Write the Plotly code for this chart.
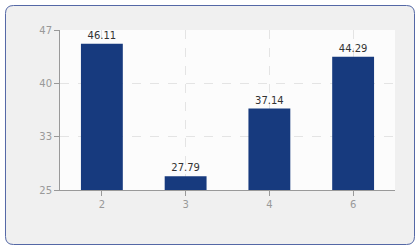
import plotly.graph_objects as go

categories = ["2", "3", "4", "6"]
values = [46.11, 27.79, 37.14, 44.29]
y_range = [25.9, 48.0]
y_tick_text = ["25", "33", "40", "47"]

W, H = 420, 250
L, R, T, B = 60, 25, 30, 60
pw, ph = W - L - R, H - T - B

span = y_range[1] - y_range[0]
y_tick_vals = [y_range[0] + span * i / 3 for i in range(4)]

def px_to_paper(x, y):
    return (x - L) / pw, (H - B - y) / ph

x0, y0, x1, y1, r = 5.5, 5.5, 414.5, 244.5, 8
def P(x, y):
    a, b = px_to_paper(x, y)
    return f"{a:.5f},{b:.5f}"
path = (f"M {P(x0+r,y0)} L {P(x1-r,y0)} Q {P(x1,y0)} {P(x1,y0+r)} "
        f"L {P(x1,y1-r)} Q {P(x1,y1)} {P(x1-r,y1)} L {P(x0+r,y1)} "
        f"Q {P(x0,y1)} {P(x0,y1-r)} L {P(x0,y0+r)} Q {P(x0,y0)} {P(x0+r,y0)} Z")

fig = go.Figure(go.Bar(
    x=categories, y=values, width=0.5,
    marker=dict(color="#173a7e", line=dict(width=0)),
    text=[f"{v:.2f}" for v in values], textposition="outside",
    textfont=dict(color="#333333", size=10, family="DejaVu Sans"),
    cliponaxis=False,
))

fig.update_layout(
    width=W, height=H,
    margin=dict(l=L, r=R, t=T, b=B),
    paper_bgcolor="white",
    plot_bgcolor="#fcfcfc",
    showlegend=False,
    font=dict(family="DejaVu Sans", size=10, color="#999999"),
    shapes=[
        dict(type="path", xref="paper", yref="paper", path=path,
             fillcolor="#f0f0f0", line=dict(color="#5468a6", width=1),
             layer="below"),
        dict(type="rect", xref="paper", yref="paper", x0=0, x1=1, y0=0, y1=1,
             fillcolor="#fcfcfc", line=dict(width=0), layer="below"),
    ],
)
fig.update_xaxes(
    type="category", showline=True, linecolor="#999999", linewidth=1,
    ticks="outside", ticklen=5, tickcolor="#999999",
    showgrid=True, gridcolor="#e4e4e4", griddash="dash", gridwidth=1,
    tickfont=dict(color="#999999", size=10),
)
fig.update_yaxes(
    range=y_range, tickmode="array", tickvals=y_tick_vals, ticktext=y_tick_text,
    showline=True, linecolor="#999999", linewidth=1,
    ticks="outside", ticklen=5, tickcolor="#999999",
    showgrid=True, gridcolor="#e4e4e4", griddash="dash", gridwidth=1,
    zeroline=False, tickfont=dict(color="#999999", size=10),
)

fig.write_html("out.html")
